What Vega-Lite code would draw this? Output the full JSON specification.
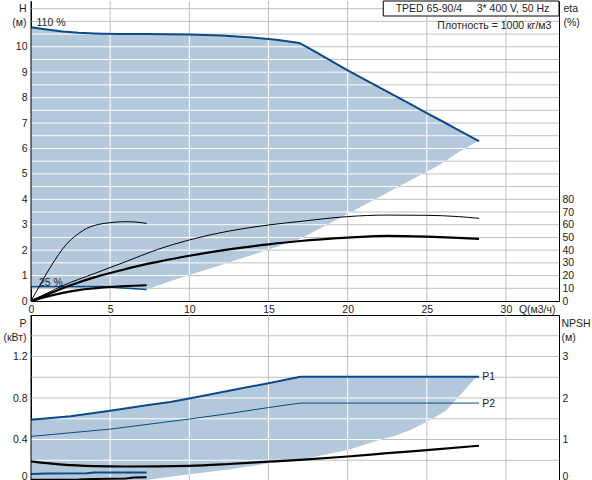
{
  "$schema": "https://vega.github.io/schema/vega-lite/v6.json",
  "description": "TPED 65-90/4 pump curves: head/efficiency above, power/NPSH below",
  "padding": {"left": 2, "top": 0, "right": 0, "bottom": 0},
  "background": "white",
  "bounds": "flush",
  "spacing": 14,
  "datasets": {
    "gridQ": [{"q": 5}, {"q": 10}, {"q": 15}, {"q": 20}, {"q": 25}, {"q": 30}],
    "gridH": [
      {"h": 0.5, "q": 0, "q2": 33.35}, {"h": 1, "q": 0, "q2": 33.35}, {"h": 1.5, "q": 0, "q2": 33.35},
      {"h": 2, "q": 0, "q2": 33.35}, {"h": 2.5, "q": 0, "q2": 33.35}, {"h": 3, "q": 0, "q2": 33.35},
      {"h": 3.5, "q": 0, "q2": 33.35}, {"h": 4, "q": 0, "q2": 33.35}, {"h": 4.5, "q": 0, "q2": 33.35},
      {"h": 5, "q": 0, "q2": 33.35}, {"h": 5.5, "q": 0, "q2": 33.35}, {"h": 6, "q": 0, "q2": 33.35},
      {"h": 6.5, "q": 0, "q2": 33.35}, {"h": 7, "q": 0, "q2": 33.35}, {"h": 7.5, "q": 0, "q2": 33.35},
      {"h": 8, "q": 0, "q2": 33.35}, {"h": 8.5, "q": 0, "q2": 33.35}, {"h": 9, "q": 0, "q2": 33.35},
      {"h": 9.5, "q": 0, "q2": 33.35}, {"h": 10, "q": 0, "q2": 33.35}, {"h": 10.5, "q": 0, "q2": 33.35},
      {"h": 11, "q": 0, "q2": 33.35}, {"h": 11.5, "q": 0, "q2": 33.35}
    ],
    "gridP": [
      {"p": 0.2, "q": 0, "q2": 33.35}, {"p": 0.4, "q": 0, "q2": 33.35}, {"p": 0.6, "q": 0, "q2": 33.35},
      {"p": 0.8, "q": 0, "q2": 33.35}, {"p": 1.0, "q": 0, "q2": 33.35}, {"p": 1.2, "q": 0, "q2": 33.35},
      {"p": 1.4, "q": 0, "q2": 33.35}
    ],
    "topArea": [
      {"q": 0, "h": 10.77, "l": 0.565},
      {"q": 1, "h": 10.68, "l": 0.567},
      {"q": 2, "h": 10.6, "l": 0.57},
      {"q": 3, "h": 10.55, "l": 0.572},
      {"q": 4, "h": 10.52, "l": 0.574},
      {"q": 4.5, "h": 10.51, "l": 0.575},
      {"q": 5.6, "h": 10.5, "l": 0.52},
      {"q": 6, "h": 10.5, "l": 0.51},
      {"q": 7.3, "h": 10.5, "l": 0.45},
      {"q": 8.5, "h": 10.49, "l": 0.72},
      {"q": 10, "h": 10.48, "l": 1.02},
      {"q": 12, "h": 10.44, "l": 1.42},
      {"q": 14, "h": 10.36, "l": 1.82},
      {"q": 15.5, "h": 10.28, "l": 2.12},
      {"q": 16.95, "h": 10.15, "l": 2.43},
      {"q": 18, "h": 9.79, "l": 2.77},
      {"q": 20, "h": 9.07, "l": 3.42},
      {"q": 22, "h": 8.4, "l": 4.09},
      {"q": 24, "h": 7.73, "l": 4.76},
      {"q": 25, "h": 7.39, "l": 5.08},
      {"q": 26, "h": 7.06, "l": 5.43},
      {"q": 27, "h": 6.72, "l": 5.85},
      {"q": 28, "h": 6.39, "l": 6.2},
      {"q": 28.3, "h": 6.29, "l": 6.29}
    ],
    "topMin": [
      {"q": 0, "h": 0.565},
      {"q": 4.5, "h": 0.575},
      {"q": 5.6, "h": 0.52},
      {"q": 7.3, "h": 0.45}
    ],
    "topHRule": [
      {"h": 1.0, "q": 0, "q2": 9.9},
      {"h": 1.5, "q": 0, "q2": 12.4},
      {"h": 2.0, "q": 0, "q2": 14.9},
      {"h": 2.5, "q": 0, "q2": 17.2},
      {"h": 3.0, "q": 0, "q2": 18.7},
      {"h": 3.5, "q": 0, "q2": 20.25},
      {"h": 4.0, "q": 0, "q2": 21.7},
      {"h": 4.5, "q": 0, "q2": 23.2},
      {"h": 5.0, "q": 0, "q2": 24.75},
      {"h": 5.5, "q": 0, "q2": 26.15},
      {"h": 6.0, "q": 0, "q2": 27.45},
      {"h": 6.5, "q": 0, "q2": 27.67},
      {"h": 7.0, "q": 0, "q2": 26.16},
      {"h": 7.5, "q": 0, "q2": 24.67},
      {"h": 8.0, "q": 0, "q2": 23.18},
      {"h": 8.5, "q": 0, "q2": 21.7},
      {"h": 9.0, "q": 0, "q2": 20.2},
      {"h": 9.5, "q": 0, "q2": 18.8},
      {"h": 10.0, "q": 0, "q2": 17.4},
      {"h": 10.5, "q": 0, "q2": 8}
    ],
    "topVRule": [
      {"q": 5, "h": 0.55, "h2": 10.5},
      {"q": 10, "h": 1.02, "h2": 10.48},
      {"q": 15, "h": 2.02, "h2": 10.31},
      {"q": 20, "h": 3.42, "h2": 9.07},
      {"q": 25, "h": 5.08, "h2": 7.39}
    ],
    "topLabels": [
      {"t": "110 %", "q": 0.35, "h": 10.8},
      {"t": "25 %", "q": 0.5, "h": 0.6}
    ],
    "topNotes": [
      {"t": "TPED 65-90/4\u00a0\u00a0\u00a0\u00a0\u00a03* 400 V, 50 Hz", "q": 32.74, "h": 11.5},
      {"t": "Плотность = 1000 кг/м3", "q": 32.87, "h": 10.82}
    ],
    "topBox": [
      {"q": 22.25, "q2": 33.35, "h": 11.21, "h2": 11.8}
    ],
    "edge": [
      {"q": 0}
    ],
    "topEta": [
      {"kind": "pump", "s": "max", "q": 0, "eta": 0},
      {"kind": "pump", "s": "max", "q": 1, "eta": 6},
      {"kind": "pump", "s": "max", "q": 2, "eta": 12},
      {"kind": "pump", "s": "max", "q": 4, "eta": 21.6},
      {"kind": "pump", "s": "max", "q": 6, "eta": 31},
      {"kind": "pump", "s": "max", "q": 8, "eta": 40.6},
      {"kind": "pump", "s": "max", "q": 10, "eta": 48},
      {"kind": "pump", "s": "max", "q": 12.5, "eta": 55},
      {"kind": "pump", "s": "max", "q": 15, "eta": 59.8},
      {"kind": "pump", "s": "max", "q": 17, "eta": 62.6},
      {"kind": "pump", "s": "max", "q": 20, "eta": 66.4},
      {"kind": "pump", "s": "max", "q": 22.5, "eta": 67.6},
      {"kind": "pump", "s": "max", "q": 25, "eta": 67.4},
      {"kind": "pump", "s": "max", "q": 27, "eta": 66.4},
      {"kind": "pump", "s": "max", "q": 28.3, "eta": 65},
      {"kind": "total", "s": "max", "q": 0, "eta": 0},
      {"kind": "total", "s": "max", "q": 1, "eta": 5},
      {"kind": "total", "s": "max", "q": 2, "eta": 10},
      {"kind": "total", "s": "max", "q": 3, "eta": 14.6},
      {"kind": "total", "s": "max", "q": 4, "eta": 18.6},
      {"kind": "total", "s": "max", "q": 5, "eta": 22},
      {"kind": "total", "s": "max", "q": 6, "eta": 25.2},
      {"kind": "total", "s": "max", "q": 7, "eta": 28.2},
      {"kind": "total", "s": "max", "q": 8, "eta": 30.8},
      {"kind": "total", "s": "max", "q": 10, "eta": 35.6},
      {"kind": "total", "s": "max", "q": 12.5, "eta": 40.6},
      {"kind": "total", "s": "max", "q": 15, "eta": 44.6},
      {"kind": "total", "s": "max", "q": 17, "eta": 47.2},
      {"kind": "total", "s": "max", "q": 20, "eta": 49.8},
      {"kind": "total", "s": "max", "q": 22.5, "eta": 51.2},
      {"kind": "total", "s": "max", "q": 25, "eta": 50.6},
      {"kind": "total", "s": "max", "q": 27, "eta": 49.6},
      {"kind": "total", "s": "max", "q": 28.3, "eta": 48.8},
      {"kind": "pump", "s": "min", "q": 0, "eta": 0},
      {"kind": "pump", "s": "min", "q": 0.5, "eta": 11},
      {"kind": "pump", "s": "min", "q": 1, "eta": 22},
      {"kind": "pump", "s": "min", "q": 1.5, "eta": 32},
      {"kind": "pump", "s": "min", "q": 2, "eta": 41},
      {"kind": "pump", "s": "min", "q": 2.5, "eta": 48},
      {"kind": "pump", "s": "min", "q": 3, "eta": 53},
      {"kind": "pump", "s": "min", "q": 3.5, "eta": 57},
      {"kind": "pump", "s": "min", "q": 4, "eta": 59.4},
      {"kind": "pump", "s": "min", "q": 4.5, "eta": 60.8},
      {"kind": "pump", "s": "min", "q": 5, "eta": 61.6},
      {"kind": "pump", "s": "min", "q": 5.5, "eta": 62.2},
      {"kind": "pump", "s": "min", "q": 6, "eta": 62.4},
      {"kind": "pump", "s": "min", "q": 6.5, "eta": 62.2},
      {"kind": "pump", "s": "min", "q": 7, "eta": 61.6},
      {"kind": "pump", "s": "min", "q": 7.3, "eta": 61},
      {"kind": "total", "s": "min", "q": 0, "eta": 0},
      {"kind": "total", "s": "min", "q": 1, "eta": 3.4},
      {"kind": "total", "s": "min", "q": 2, "eta": 6.4},
      {"kind": "total", "s": "min", "q": 3, "eta": 8.6},
      {"kind": "total", "s": "min", "q": 4, "eta": 10},
      {"kind": "total", "s": "min", "q": 5, "eta": 11.1},
      {"kind": "total", "s": "min", "q": 6, "eta": 11.8},
      {"kind": "total", "s": "min", "q": 7.3, "eta": 12.4}
    ],
    "botArea": [
      {"q": 0, "p": 0.59, "l": 0},
      {"q": 2.5, "p": 0.625, "l": 0},
      {"q": 5, "p": 0.677, "l": 0},
      {"q": 7.3, "p": 0.73, "l": 0.01},
      {"q": 8.8, "p": 0.762, "l": 0.04},
      {"q": 10, "p": 0.795, "l": 0.065},
      {"q": 12.5, "p": 0.87, "l": 0.11},
      {"q": 15, "p": 0.943, "l": 0.17},
      {"q": 17, "p": 1.005, "l": 0.205},
      {"q": 20, "p": 1.005, "l": 0.3},
      {"q": 22, "p": 1.005, "l": 0.395},
      {"q": 23, "p": 1.005, "l": 0.435},
      {"q": 24, "p": 1.005, "l": 0.495},
      {"q": 25, "p": 1.005, "l": 0.57},
      {"q": 26.2, "p": 1.005, "l": 0.678},
      {"q": 27.3, "p": 1.005, "l": 0.86},
      {"q": 28, "p": 1.005, "l": 0.98},
      {"q": 28.3, "p": 1.005, "l": 1.005}
    ],
    "botP2": [
      {"q": 0, "p": 0.43},
      {"q": 5, "p": 0.5},
      {"q": 10, "p": 0.597},
      {"q": 12.5, "p": 0.65},
      {"q": 15, "p": 0.708},
      {"q": 17, "p": 0.751},
      {"q": 28.3, "p": 0.751}
    ],
    "botMin": [
      {"s": "p1", "q": 0, "p": 0.068},
      {"s": "p1", "q": 1, "p": 0.073},
      {"s": "p1", "q": 3.5, "p": 0.075},
      {"s": "p1", "q": 4, "p": 0.082},
      {"s": "p1", "q": 7.3, "p": 0.083},
      {"s": "p2", "q": 0, "p": 0.012},
      {"s": "p2", "q": 3, "p": 0.014},
      {"s": "p2", "q": 4, "p": 0.02},
      {"s": "p2", "q": 6, "p": 0.025},
      {"s": "p2", "q": 6.5, "p": 0.034},
      {"s": "p2", "q": 7.3, "p": 0.036}
    ],
    "botNpsh": [
      {"q": 0, "n": 0.475},
      {"q": 2, "n": 0.395},
      {"q": 4, "n": 0.36},
      {"q": 6, "n": 0.35},
      {"q": 8, "n": 0.352},
      {"q": 10, "n": 0.365},
      {"q": 12.5, "n": 0.41},
      {"q": 15, "n": 0.465},
      {"q": 17, "n": 0.51},
      {"q": 20, "n": 0.59},
      {"q": 22.5, "n": 0.67},
      {"q": 25, "n": 0.745},
      {"q": 28.3, "n": 0.85}
    ],
    "botHRule": [
      {"p": 0.2, "q": 0, "q2": 16.7},
      {"p": 0.4, "q": 0, "q2": 22.1},
      {"p": 0.6, "q": 0.7, "q2": 25.3},
      {"p": 0.8, "q": 10.2, "q2": 26.95}
    ],
    "botVRule": [
      {"q": 5, "p": 0, "p2": 0.677},
      {"q": 10, "p": 0.065, "p2": 0.795},
      {"q": 15, "p": 0.17, "p2": 0.943},
      {"q": 20, "p": 0.3, "p2": 1.005},
      {"q": 25, "p": 0.57, "p2": 1.005}
    ],
    "botLabels": [
      {"t": "P1", "q": 28.5, "p": 1.0},
      {"t": "P2", "q": 28.5, "p": 0.74}
    ]
  },
  "vconcat": [
    {
      "width": 528,
      "height": 300,
      "resolve": {"scale": {"y": "independent"}},
      "encoding": {
        "x": {
          "field": "q",
          "type": "quantitative",
          "scale": {"domain": [0, 33.35], "nice": false, "zero": false},
          "axis": {
            "values": [0, 5, 10, 15, 20, 25, 30],
            "grid": false,
            "labelFlush": false,
            "labelPadding": 3,
            "title": "Q(м3/ч)",
            "titleAngle": 0,
            "titleAlign": "right",
            "titleBaseline": "top",
            "titleX": 524,
            "titleY": 3
          }
        }
      },
      "layer": [
        {
          "data": {"name": "gridQ"},
          "mark": {"type": "rule", "color": "#c0c0c0", "strokeWidth": 1},
          "encoding": {}
        },
        {
          "encoding": {
            "y": {
              "field": "h",
              "type": "quantitative",
              "scale": {"domain": [0, 11.8], "nice": false, "zero": false},
              "axis": {
                "values": [0, 1, 2, 3, 4, 5, 6, 7, 8, 9, 10],
                "format": "~g",
                "grid": false,
                "labelPadding": 4,
                "title": ["H", "(м)"],
                "titleAngle": 0,
                "titleAlign": "right",
                "titleBaseline": "top",
                "titleX": -5,
                "titleY": 2.5,
                "titleLineHeight": 14
              }
            }
          },
          "layer": [
            {
              "data": {"name": "gridH"},
              "mark": {"type": "rule", "color": "#c0c0c0", "strokeWidth": 1},
              "encoding": {"x2": {"field": "q2"}}
            },
            {
              "data": {"name": "topArea"},
              "mark": {"type": "area", "color": "#b4c8dc"},
              "encoding": {"y2": {"field": "l"}}
            },
            {
              "data": {"name": "topHRule"},
              "mark": {"type": "rule", "color": "white", "strokeWidth": 1},
              "encoding": {"x2": {"field": "q2"}}
            },
            {
              "data": {"name": "topVRule"},
              "mark": {"type": "rule", "color": "white", "strokeWidth": 1},
              "encoding": {"y2": {"field": "h2"}}
            },
            {
              "data": {"name": "topArea"},
              "mark": {"type": "line", "color": "#0b4a86", "strokeWidth": 2},
              "encoding": {}
            },
            {
              "data": {"name": "topMin"},
              "mark": {"type": "line", "color": "#0b4a86", "strokeWidth": 1.5},
              "encoding": {}
            },
            {
              "data": {"name": "topBox"},
              "mark": {"type": "rect", "fill": "white", "stroke": "black", "strokeWidth": 1},
              "encoding": {"x2": {"field": "q2"}, "y2": {"field": "h2"}}
            },
            {
              "data": {"name": "topNotes"},
              "mark": {"type": "text", "align": "right", "baseline": "middle", "color": "#222"},
              "encoding": {"text": {"field": "t"}}
            },
            {
              "data": {"name": "topLabels"},
              "mark": {"type": "text", "align": "left", "baseline": "alphabetic", "color": "#222"},
              "encoding": {"text": {"field": "t"}}
            }
          ]
        },
        {
          "data": {"name": "topEta"},
          "encoding": {
            "y": {
              "field": "eta",
              "type": "quantitative",
              "scale": {"domain": [0, 236], "nice": false, "zero": false},
              "axis": {
                "orient": "right",
                "values": [0, 10, 20, 30, 40, 50, 60, 70, 80],
                "grid": false,
                "labelPadding": 3,
                "title": ["eta", "(%)"],
                "titleAngle": 0,
                "titleAlign": "left",
                "titleBaseline": "top",
                "titleX": 4,
                "titleY": 2.5,
                "titleLineHeight": 14
              }
            },
            "detail": {"field": "s"}
          },
          "layer": [
            {
              "transform": [{"filter": "datum.kind == 'pump'"}],
              "mark": {"type": "line", "color": "black", "strokeWidth": 1, "interpolate": "monotone"}
            },
            {
              "transform": [{"filter": "datum.kind == 'total'"}],
              "mark": {"type": "line", "color": "black", "strokeWidth": 2.2, "interpolate": "monotone"}
            }
          ]
        },
        {
          "data": {"name": "edge"},
          "mark": {"type": "rule", "color": "black", "strokeWidth": 1},
          "encoding": {}
        }
      ]
    },
    {
      "width": 528,
      "height": 166,
      "resolve": {"scale": {"y": "independent"}},
      "encoding": {
        "x": {
          "field": "q",
          "type": "quantitative",
          "scale": {"domain": [0, 33.35], "nice": false, "zero": false},
          "axis": {
            "orient": "top",
            "values": [0, 5, 10, 15, 20, 25, 30],
            "grid": false,
            "labels": false,
            "title": null
          }
        }
      },
      "layer": [
        {
          "data": {"name": "gridQ"},
          "mark": {"type": "rule", "color": "#c0c0c0", "strokeWidth": 1},
          "encoding": {}
        },
        {
          "encoding": {
            "y": {
              "field": "p",
              "type": "quantitative",
              "scale": {"domain": [0, 1.6], "nice": false, "zero": false},
              "axis": {
                "values": [0, 0.4, 0.8, 1.2],
                "format": "~g",
                "labelFlush": true,
                "grid": false,
                "labelPadding": 4,
                "title": ["P", "(кВт)"],
                "titleAngle": 0,
                "titleAlign": "right",
                "titleBaseline": "top",
                "titleX": -5,
                "titleY": 3,
                "titleLineHeight": 14
              }
            }
          },
          "layer": [
            {
              "data": {"name": "gridP"},
              "mark": {"type": "rule", "color": "#c0c0c0", "strokeWidth": 1},
              "encoding": {"x2": {"field": "q2"}}
            },
            {
              "data": {"name": "botArea"},
              "mark": {"type": "area", "color": "#b4c8dc"},
              "encoding": {"y2": {"field": "l"}}
            },
            {
              "data": {"name": "botHRule"},
              "mark": {"type": "rule", "color": "white", "strokeWidth": 1},
              "encoding": {"x2": {"field": "q2"}}
            },
            {
              "data": {"name": "botVRule"},
              "mark": {"type": "rule", "color": "white", "strokeWidth": 1},
              "encoding": {"y2": {"field": "p2"}}
            },
            {
              "data": {"name": "botArea"},
              "mark": {"type": "line", "color": "#0b4a86", "strokeWidth": 2},
              "encoding": {}
            },
            {
              "data": {"name": "botP2"},
              "mark": {"type": "line", "color": "#0b4a86", "strokeWidth": 1},
              "encoding": {}
            },
            {
              "data": {"name": "botMin"},
              "mark": {"type": "line", "strokeWidth": 2},
              "encoding": {
                "color": {"field": "s", "type": "nominal", "scale": {"domain": ["p1", "p2"], "range": ["#0b4a86", "black"]}, "legend": null}
              }
            },
            {
              "data": {"name": "botLabels"},
              "mark": {"type": "text", "align": "left", "baseline": "middle", "color": "#222"},
              "encoding": {"text": {"field": "t"}}
            }
          ]
        },
        {
          "data": {"name": "botNpsh"},
          "mark": {"type": "line", "color": "black", "strokeWidth": 2.2, "interpolate": "monotone"},
          "encoding": {
            "y": {
              "field": "n",
              "type": "quantitative",
              "scale": {"domain": [0, 4], "nice": false, "zero": false},
              "axis": {
                "orient": "right",
                "values": [0, 1, 2, 3],
                "labelFlush": true,
                "grid": false,
                "labelPadding": 3,
                "title": ["NPSH", "(м)"],
                "titleAngle": 0,
                "titleAlign": "left",
                "titleBaseline": "top",
                "titleX": 2,
                "titleY": 3,
                "titleLineHeight": 14
              }
            }
          }
        },
        {
          "data": {"name": "edge"},
          "mark": {"type": "rule", "color": "black", "strokeWidth": 1},
          "encoding": {}
        }
      ]
    }
  ],
  "config": {
    "view": {"stroke": null},
    "font": "Liberation Sans",
    "axis": {
      "ticks": false,
      "domain": true,
      "domainColor": "black",
      "domainWidth": 1,
      "labelFont": "Liberation Sans",
      "labelFontSize": 10.5,
      "labelColor": "#222",
      "titleFont": "Liberation Sans",
      "titleFontSize": 10.5,
      "titleFontWeight": "normal",
      "titleColor": "#222"
    },
    "text": {"font": "Liberation Sans", "fontSize": 10.5}
  }
}
